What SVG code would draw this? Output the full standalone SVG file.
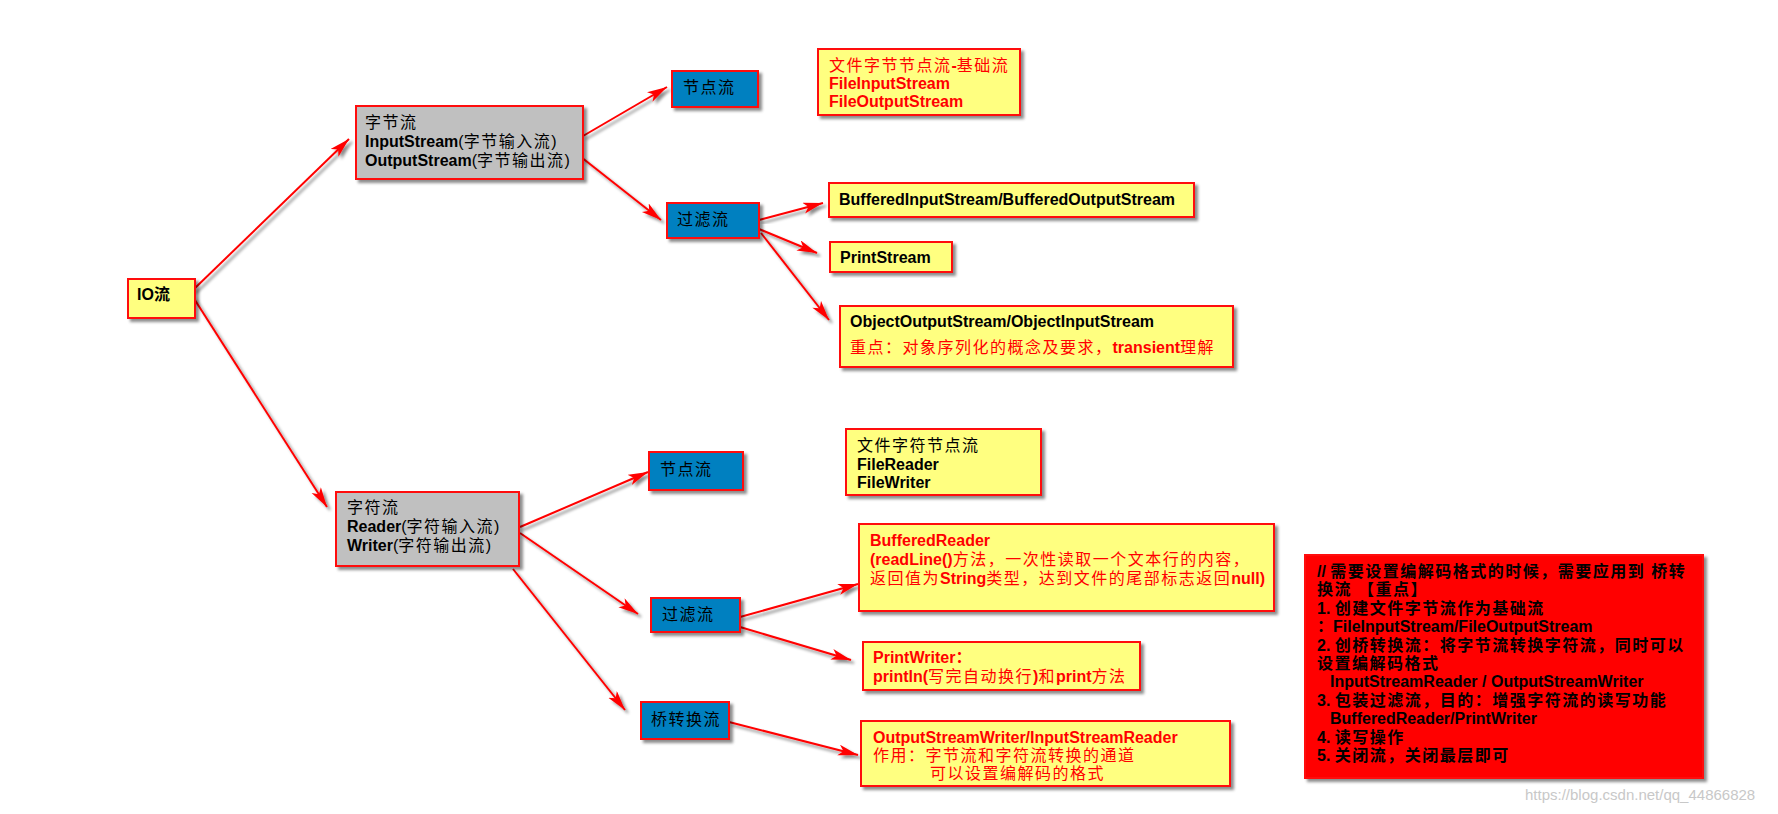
<svg xmlns="http://www.w3.org/2000/svg" width="1778" height="814" viewBox="0 0 1778 814">
<defs>
<style>
.t{font-family:"Liberation Sans","Noto Sans CJK SC",sans-serif;font-size:16px;fill:#000}
.b{font-weight:bold}
.c{letter-spacing:1.5px}
.r{fill:#ff0000}
.box{stroke:#ff1010;stroke-width:2;filter:url(#sh)}
.y{fill:#ffff80}.g{fill:#c0c0c0}.bl{fill:#0080c0}.rn{fill:#ff0000}
#conns line{stroke:#ff0000;stroke-width:2;marker-end:url(#ah);filter:url(#sh)}
.wm{font-family:"Liberation Sans",sans-serif;font-size:15px;fill:#c8c8c8}
</style>
<filter id="sh" x="-20%" y="-20%" width="140%" height="140%">
<feDropShadow dx="3" dy="3" stdDeviation="1.5" flood-color="#000" flood-opacity="0.45"/>
</filter>
<marker id="ah" markerUnits="userSpaceOnUse" markerWidth="22" markerHeight="12" refX="20" refY="5.5" orient="auto">
<path d="M0,0 L20,5.5 L0,11 L5,5.5 z" fill="#ff0000"/>
</marker>
</defs>
<rect width="1778" height="814" fill="#ffffff"/>

<g id="conns">
<line x1="193" y1="290" x2="349" y2="139"/>
<line x1="193" y1="297" x2="327" y2="507"/>
<line x1="583" y1="136" x2="667" y2="87"/>
<line x1="581" y1="157" x2="661" y2="220"/>
<line x1="758" y1="89" x2="815" y2="89"/>
<line x1="759" y1="220" x2="823" y2="203"/>
<line x1="759" y1="229" x2="817" y2="253"/>
<line x1="761" y1="233" x2="829" y2="320"/>
<line x1="520" y1="527" x2="648" y2="472"/>
<line x1="520" y1="533" x2="638" y2="614"/>
<line x1="513" y1="569" x2="625" y2="710"/>
<line x1="743" y1="469" x2="845" y2="469"/>
<line x1="740" y1="617" x2="858" y2="584"/>
<line x1="740" y1="627" x2="851" y2="660"/>
<line x1="729" y1="722" x2="858" y2="755"/>
</g>

<g id="io">
<rect class="box y" x="128" y="279" width="67" height="39"/>
<text class="t b" x="137" y="300">IO流</text>
</g>

<g id="byte">
<rect class="box g" x="356" y="106" width="227" height="73"/>
<text class="t" x="365" y="128"><tspan class="c">字节流</tspan></text>
<text class="t" x="365" y="147"><tspan class="b">InputStream</tspan>(<tspan class="c">字节输入流</tspan>)</text>
<text class="t" x="365" y="166"><tspan class="b">OutputStream</tspan>(<tspan class="c">字节输出流</tspan>)</text>
</g>

<g id="byteNode">
<rect class="box bl" x="672" y="71" width="86" height="36"/>
<text class="t c" x="683" y="93">节点流</text>
</g>

<g id="fileByte">
<rect class="box y" x="818" y="49" width="202" height="66"/>
<text class="t r" x="829" y="71"><tspan class="c">文件字节节点流</tspan><tspan class="b">-</tspan><tspan class="c">基础流</tspan></text>
<text class="t r b" x="829" y="89">FileInputStream</text>
<text class="t r b" x="829" y="107">FileOutputStream</text>
</g>

<g id="byteFilter">
<rect class="box bl" x="667" y="203" width="92" height="35"/>
<text class="t c" x="677" y="225">过滤流</text>
</g>

<g id="buffered">
<rect class="box y" x="829" y="183" width="365" height="34"/>
<text class="t b" x="839" y="205">BufferedInputStream/BufferedOutputStream</text>
</g>

<g id="printStream">
<rect class="box y" x="830" y="242" width="122" height="30"/>
<text class="t b" x="840" y="263">PrintStream</text>
</g>

<g id="object">
<rect class="box y" x="840" y="306" width="393" height="61"/>
<text class="t b" x="850" y="327">ObjectOutputStream/ObjectInputStream</text>
<text class="t r" x="850" y="353"><tspan class="c">重点：对象序列化的概念及要求，</tspan><tspan class="b">transient</tspan><tspan class="c">理解</tspan></text>
</g>

<g id="char">
<rect class="box g" x="336" y="492" width="183" height="74"/>
<text class="t" x="347" y="513"><tspan class="c">字符流</tspan></text>
<text class="t" x="347" y="532"><tspan class="b">Reader</tspan>(<tspan class="c">字符输入流</tspan>)</text>
<text class="t" x="347" y="551"><tspan class="b">Writer</tspan>(<tspan class="c">字符输出流</tspan>)</text>
</g>

<g id="charNode">
<rect class="box bl" x="649" y="452" width="94" height="38"/>
<text class="t c" x="660" y="475">节点流</text>
</g>

<g id="fileChar">
<rect class="box y" x="846" y="429" width="195" height="66"/>
<text class="t c" x="857" y="451">文件字符节点流</text>
<text class="t b" x="857" y="470">FileReader</text>
<text class="t b" x="857" y="488">FileWriter</text>
</g>

<g id="charFilter">
<rect class="box bl" x="651" y="598" width="89" height="34"/>
<text class="t c" x="662" y="620">过滤流</text>
</g>

<g id="bufferedReader">
<rect class="box y" x="859" y="524" width="415" height="87"/>
<text class="t r b" x="870" y="546">BufferedReader</text>
<text class="t r" x="870" y="565"><tspan class="b">(readLine()</tspan><tspan class="c">方法，一次性读取一个文本行的内容，</tspan></text>
<text class="t r" x="870" y="584"><tspan class="c">返回值为</tspan><tspan class="b">String</tspan><tspan class="c">类型，达到文件的尾部标志返回</tspan><tspan class="b">null)</tspan></text>
</g>

<g id="printWriter">
<rect class="box y" x="863" y="642" width="277" height="48"/>
<text class="t r b" x="873" y="663">PrintWriter<tspan class="c">：</tspan></text>
<text class="t r" x="873" y="682"><tspan class="b">println(</tspan><tspan class="c">写完自动换行</tspan><tspan class="b">)</tspan><tspan class="c">和</tspan><tspan class="b">print</tspan><tspan class="c">方法</tspan></text>
</g>

<g id="bridge">
<rect class="box bl" x="641" y="702" width="88" height="37"/>
<text class="t c" x="651" y="725">桥转换流</text>
</g>

<g id="osw">
<rect class="box y" x="861" y="721" width="369" height="65"/>
<text class="t r b" x="873" y="743">OutputStreamWriter/InputStreamReader</text>
<text class="t r c" x="873" y="761">作用：字节流和字符流转换的通道</text>
<text class="t r c" x="930" y="779">可以设置编解码的格式</text>
</g>

<g id="note">
<rect class="box rn" x="1305" y="555" width="398" height="223"/>
<text class="t b" x="1317" y="577">// <tspan class="c">需要设置编解码格式的时候，需要应用到 桥转</tspan></text>
<text class="t b c" x="1317" y="595">换流 【重点】</text>
<text class="t b" x="1317" y="614">1. <tspan class="c">创建文件字节流作为基础流</tspan></text>
<text class="t b" x="1317" y="632">：FileInputStream/FileOutputStream</text>
<text class="t b" x="1317" y="651">2. <tspan class="c">创桥转换流：将字节流转换字符流，同时可以</tspan></text>
<text class="t b c" x="1317" y="669">设置编解码格式</text>
<text class="t b" x="1330" y="687">InputStreamReader / OutputStreamWriter</text>
<text class="t b" x="1317" y="706">3. <tspan class="c">包装过滤流，目的：增强字符流的读写功能</tspan></text>
<text class="t b" x="1330" y="724">BufferedReader/PrintWriter</text>
<text class="t b" x="1317" y="743">4. <tspan class="c">读写操作</tspan></text>
<text class="t b" x="1317" y="761">5. <tspan class="c">关闭流，关闭最层即可</tspan></text>
</g>

<text class="wm" x="1525" y="800">https://blog.csdn.net/qq_44866828</text>
</svg>
